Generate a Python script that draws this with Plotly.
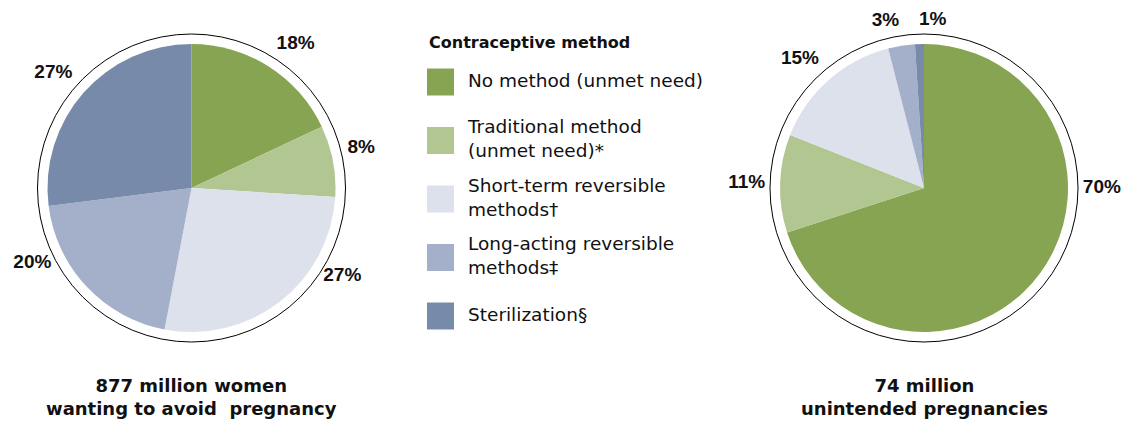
import math
import plotly.graph_objects as go

# ---------------- data ----------------
methods = [
    "No method (unmet need)",
    "Traditional method (unmet need)*",
    "Short-term reversible methods†",
    "Long-acting reversible methods‡",
    "Sterilization§",
]
legend_labels = [
    "No method (unmet need)",
    "Traditional method<br>(unmet need)*",
    "Short-term reversible<br>methods†",
    "Long-acting reversible<br>methods‡",
    "Sterilization§",
]
women_pct = [18, 8, 27, 20, 27]
pregnancy_pct = [70, 11, 15, 3, 1]
pie_titles = [
    "877 million women<br>wanting to avoid\u00a0 pregnancy",
    "74 million<br>unintended pregnancies",
]
legend_title = "Contraceptive method"

# ---------------- style ----------------
colors = ["#87A453", "#B1C691", "#DDE1EC", "#A4B0C9", "#778AA9"]
W, H = 1129, 424          # browser window
OX, OY = 8, 8             # page body margin
FW, FH = W - OX, H - OY   # figure size
TEXT = "#111111"
FONT = "DejaVu Sans"
LABEL_FONT = "Liberation Sans"
R_PIE, R_RING = 144, 154
R_LABEL = 159
LOWER_LEAN = 0.35         # lower-half labels lean toward the horizontal
centers = [(191.5, 188), (924, 188)]


def fx(x):
    return (x - OX) / FW


def fy(y):
    return (FH - (y - OY)) / FH


def domain(cx, cy, r):
    return dict(x=[fx(cx - r), fx(cx + r)], y=[fy(cy + r), fy(cy - r)])


def label_layout(values):
    """Label angle (clockwise from 12 o'clock) and text anchor for each slice."""
    total = sum(values)
    thetas, positions = [], []
    cum = 0
    for v in values:
        start, end = cum / total * 360, (cum + v) / total * 360
        cum += v
        th = (start + end) / 2
        if v / total > 0.5:
            # a slice over half the pie is labelled at its horizontal side
            th = 90 if start <= 90 <= end else 270
        elif math.cos(math.radians(th)) < 0:
            target = 90 if math.sin(math.radians(th)) > 0 else 270
            th += LOWER_LEAN * (target - th)
        s, c = math.sin(math.radians(th)), math.cos(math.radians(th))
        # labels right at 12 o'clock sit to the right of the top
        horiz = "right" if (s > 0 or abs(s) < 0.1) else "left"
        vert = "top" if c > 0.15 else "middle"
        thetas.append(th)
        positions.append(f"{vert} {horiz}")
    return thetas, positions


fig = go.Figure()
layout_polars = {}
annotations = []

for i, (vals, (cx, cy)) in enumerate(zip([women_pct, pregnancy_pct], centers)):
    # outer ring
    fig.add_trace(go.Pie(
        values=[1], labels=["ring"], domain=domain(cx, cy, R_RING),
        marker=dict(colors=["white"], line=dict(color="black", width=1)),
        textinfo="none", hoverinfo="skip", sort=False, showlegend=False,
    ))
    # data pie
    fig.add_trace(go.Pie(
        values=vals, labels=methods, domain=domain(cx, cy, R_PIE),
        marker=dict(colors=colors, line=dict(width=0)),
        sort=False, direction="clockwise", rotation=0,
        textinfo="none", hovertemplate="%{label}: %{value}%<extra></extra>",
        showlegend=False,
    ))
    # percentage labels on a polar overlay
    thetas, positions = label_layout(vals)
    pname = "polar" if i == 0 else f"polar{i + 1}"
    fig.add_trace(go.Scatterpolar(
        r=[1] * len(vals), theta=thetas, mode="text",
        text=[f"{v}%" for v in vals], textposition=positions,
        textfont=dict(family=LABEL_FONT, size=19, color=TEXT, weight="bold"),
        cliponaxis=False, hoverinfo="skip", showlegend=False,
        subplot=pname,
    ))
    layout_polars[pname] = dict(
        domain=domain(cx, cy, R_LABEL), bgcolor="rgba(0,0,0,0)",
        radialaxis=dict(visible=False, range=[0, 1.001]),
        angularaxis=dict(visible=False, rotation=90, direction="clockwise"),
    )
    annotations.append(dict(
        text=f"<b>{pie_titles[i]}</b>", x=fx(cx), y=fy(397),
        xref="paper", yref="paper", xanchor="center", yanchor="middle",
        showarrow=False, font=dict(family=FONT, size=18, color=TEXT),
    ))

# legend drawn as a scatter
fig.add_trace(go.Scatter(
    x=[0] * len(methods), y=methods, mode="markers",
    marker=dict(symbol="square", size=27, color=colors, line=dict(width=0)),
    hoverinfo="skip", showlegend=False, cliponaxis=False,
))
fig.add_trace(go.Scatter(
    x=[27.5] * len(methods), y=methods, mode="text", text=legend_labels,
    textposition="middle right",
    textfont=dict(family=FONT, size=18.5, color=TEXT),
    hoverinfo="skip", showlegend=False, cliponaxis=False,
))
annotations.append(dict(
    text=f"<b>{legend_title}</b>", x=fx(427), y=fy(42),
    xref="paper", yref="paper", xanchor="left", yanchor="middle",
    showarrow=False, font=dict(family=FONT, size=16, color=TEXT),
))

LX0 = 440.5
fig.update_layout(
    width=FW, height=FH, margin=dict(l=0, r=0, t=0, b=0),
    paper_bgcolor="white", plot_bgcolor="rgba(0,0,0,0)",
    showlegend=False,
    xaxis=dict(domain=[fx(LX0), fx(LX0 + 260)], range=[0, 260], visible=False, fixedrange=True),
    yaxis=dict(domain=[fy(345.25), fy(52.75)], range=[4.5, -0.5], type="category",
               categoryorder="array", categoryarray=methods, visible=False, fixedrange=True),
    annotations=annotations,
    **layout_polars,
)

fig.write_html("out.html")
